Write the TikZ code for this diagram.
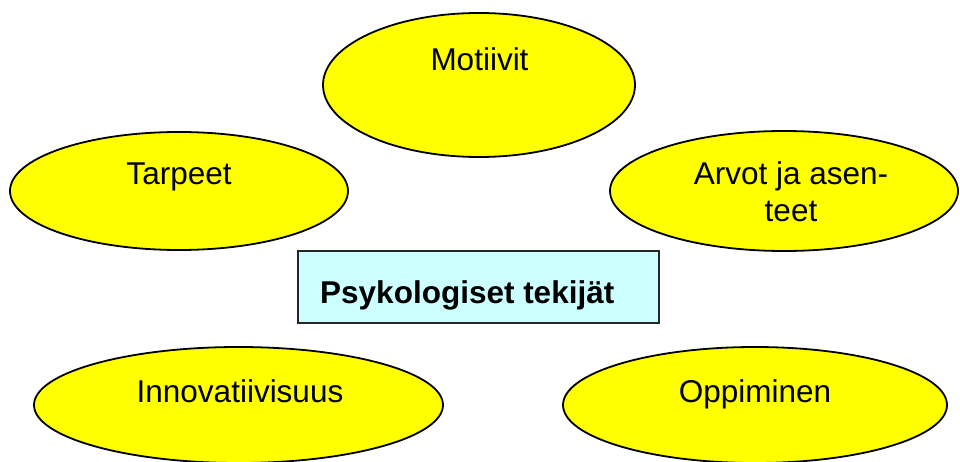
\documentclass[tikz,border=0pt]{standalone}
\usepackage{fontspec}
\setmainfont{Liberation Sans}
\usetikzlibrary{shapes.geometric}
\definecolor{blobyellow}{HTML}{FFFF00}
\definecolor{boxcyan}{HTML}{CCFFFF}
\begin{document}
\begin{tikzpicture}[x=1pt,y=-1pt,
  blob/.style={ellipse, draw=black, line width=1.8pt, fill=blobyellow, inner sep=0pt},
  lbl/.style={anchor=base, inner sep=0pt, font=\fontsize{31.5}{37}\selectfont},
  hub/.style={draw=black!85, line width=1.8pt, fill=boxcyan, inner sep=0pt,
    minimum width=361pt, minimum height=72pt}]
  \useasboundingbox (0,0) rectangle (960,462);

  % outer factor ellipses
  \node[blob, minimum width=312pt, minimum height=144pt] (mot) at (479,85) {};
  \node[blob, minimum width=338pt, minimum height=118pt] (tar) at (179,191) {};
  \node[blob, minimum width=348pt, minimum height=120pt] (arv) at (784,191) {};
  \node[blob, minimum width=409pt, minimum height=116pt] (inn) at (238.5,405) {};
  \node[blob, minimum width=384pt, minimum height=116pt] (opp) at (755,405) {};

  % central box
  \node[hub] (psy) at (478.5,287) {};

  % labels (a multi-line label sits on the baseline of its last line)
  \node[lbl] (motT) at (479.5,71) {Motiivit};
  \node[lbl] (tarT) at (179,185) {Tarpeet};
  \node[lbl, align=center] (arvT) at (791,222) {Arvot ja asen-\\teet};
  \node[lbl] (innT) at (240,402) {Innovatiivisuus};
  \node[lbl] (oppT) at (755,402) {Oppiminen};
  \node[lbl, anchor=base west, font=\fontsize{31.5}{37}\selectfont\bfseries] (psyT) at (320,303) {Psykologiset tekijät};
\end{tikzpicture}
\end{document}
